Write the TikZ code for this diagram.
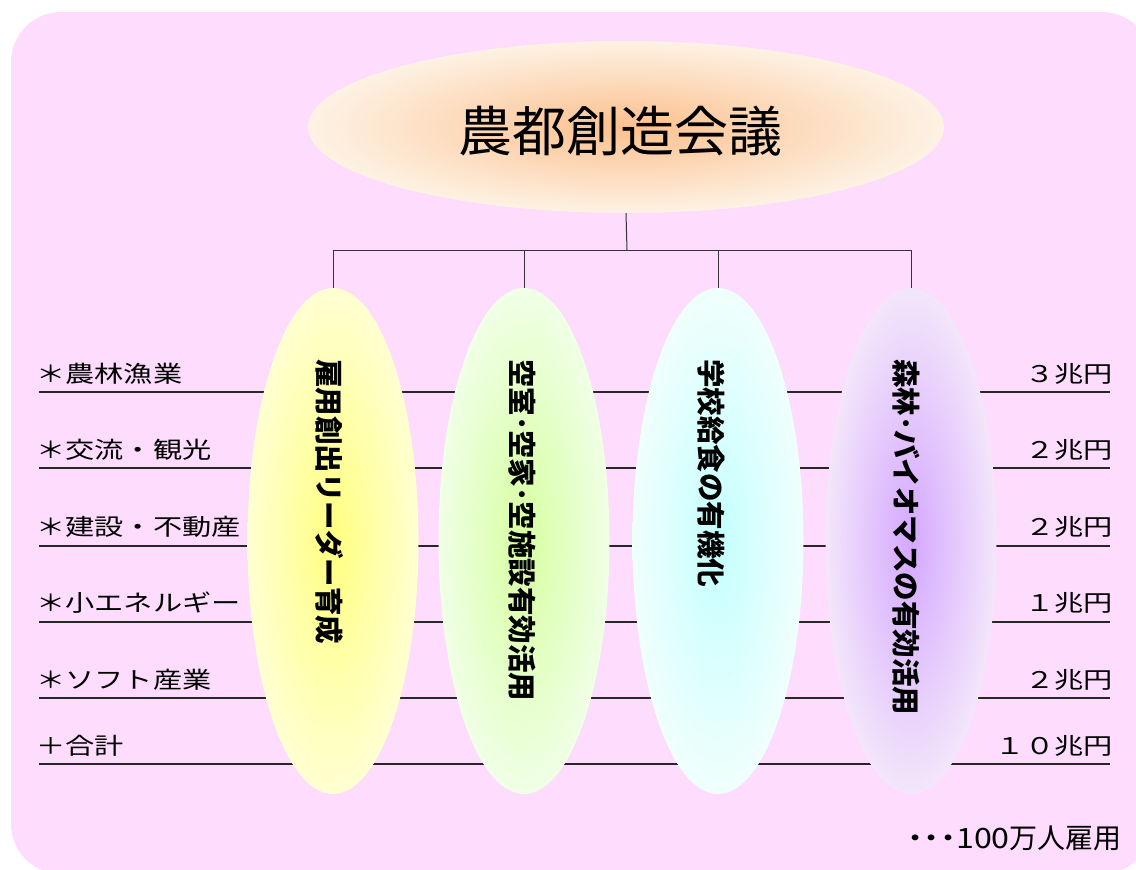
\documentclass[tikz,border=0pt]{standalone}
\usepackage{fontspec}
\usetikzlibrary{shapes.geometric}
\newfontfamily\jp{Noto Sans CJK JP}
\newfontfamily\jpwide[FakeStretch=1.27]{Noto Sans CJK JP}
\newfontfamily\jpmid[FakeStretch=1.15]{Noto Sans CJK JP}
\definecolor{bgpink}{HTML}{FDDCFD}
\definecolor{topin}{HTML}{FCC08E}
\definecolor{topout}{HTML}{FDF2E4}
\definecolor{yin}{HTML}{FFFF80}
\definecolor{yout}{HTML}{FFFFD2}
\definecolor{gin}{HTML}{D6FFA0}
\definecolor{gout}{HTML}{F0FFE6}
\definecolor{cin}{HTML}{C4FFFF}
\definecolor{cout}{HTML}{F0FFFC}
\definecolor{pin}{HTML}{D4A8FF}
\definecolor{pout}{HTML}{F3E6FA}
\begin{document}
\begin{tikzpicture}[x=1pt,y=-1pt,
  oval/.style={ellipse, draw=none, inner sep=0pt, minimum width=171pt, minimum height=506pt},
  vtext/.style={rotate=-90, anchor=west, inner sep=0pt, font=\jp\bfseries\fontsize{28.5}{28.5}\selectfont},
  lbl/.style={inner sep=0pt, font=\jpwide\fontsize{23}{23}\selectfont},
  rule/.style={line width=1.3pt, draw=black!85},
  link/.style={line width=1pt, draw=black!80}]
\useasboundingbox (0,0) rectangle (1136,870);
\fill[fill=bgpink, rounded corners=50pt] (11,12) rectangle (1152,874);

% horizontal rules
\foreach \i/\y in {1/392,2/468,3/546,4/622,5/698,6/764}{
  \coordinate (L\i) at (39,\y);
  \coordinate (R\i) at (1110,\y);
}
\foreach \i in {1,...,6}{ \draw[rule] (L\i) -- (R\i); }

% left labels
\node[lbl, anchor=base west] (a1) at (36,382) {＊農林漁業};
\node[lbl, anchor=base west] (a2) at (36,458) {＊交流・観光};
\node[lbl, anchor=base west] (a3) at (36,535) {＊建設・不動産};
\node[lbl, anchor=base west] (a4) at (36,611) {＊小エネルギー};
\node[lbl, anchor=base west] (a5) at (36,688) {＊ソフト産業};
\node[lbl, anchor=base west] (a6) at (36,754) {＋合計};

% right labels
\node[lbl, anchor=base east] (b1) at (1113,382) {３兆円};
\node[lbl, anchor=base east] (b2) at (1113,458) {２兆円};
\node[lbl, anchor=base east] (b3) at (1113,535) {２兆円};
\node[lbl, anchor=base east] (b4) at (1113,611) {１兆円};
\node[lbl, anchor=base east] (b5) at (1113,688) {２兆円};
\node[lbl, anchor=base east] (b6) at (1113,754) {１０兆円};

% title
\node[ellipse, draw=none, inner sep=0pt, minimum width=636pt, minimum height=172pt,
      inner color=topin, outer color=topout] (top) at (626,127) {};
\node[inner sep=0pt, font=\jp\fontsize{54}{54}\selectfont] (title) at (620,131) {農都創造会議};

% connectors
\coordinate (bus) at (627,250);
\draw[link] (top.south) -- (bus);

% ellipses
\node[oval, inner color=yin, outer color=yout] (e1) at (333,541) {};
\node[oval, inner color=gin, outer color=gout] (e2) at (524,541) {};
\node[oval, inner color=cin, outer color=cout] (e3) at (718,541) {};
\node[oval, inner color=pin, outer color=pout] (e4) at (911,541) {};

\draw[link] (e1.north) |- (bus);
\draw[link] (e2.north) |- (bus);
\draw[link] (e3.north) |- (bus);
\draw[link] (e4.north) |- (bus);

\node[vtext] (t1) at (329,359) {雇用創出リーダー育成};
\node[vtext] (t2) at (522,359) {空室･空家･空施設有効活用};
\node[vtext] (t3) at (711,359) {学校給食の有機化};
\node[vtext] (t4) at (906,359) {森林･バイオマスの有効活用};

% bottom note
\node[inner sep=0pt, anchor=base east, font=\jp\fontsize{28}{28}\selectfont] (note) at (1122,848) {{\jpmid\bfseries ･･･}{\jpmid 100}万人雇用};
\end{tikzpicture}
\end{document}
